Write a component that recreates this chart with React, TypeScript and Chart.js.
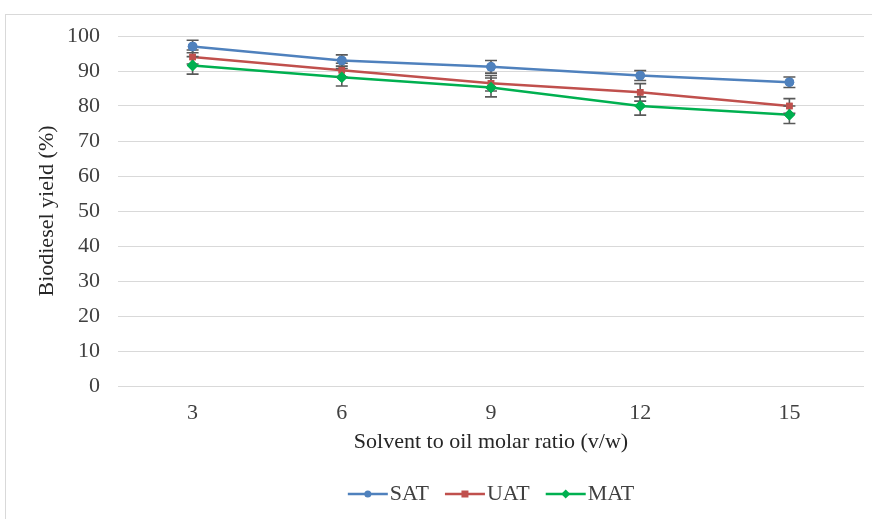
import React, { useEffect, useRef } from "react";
import { Chart, registerables } from "chart.js";

Chart.register(...registerables);

const categories = ["3", "6", "9", "12", "15"];
const satValues = [97, 93, 91.2, 88.7, 86.8];
const uatValues = [94, 90.2, 86.5, 83.9, 80];
const matValues = [91.6, 88.2, 85.3, 80, 77.5];
const satErrors = [1.8, 1.6, 1.8, 1.4, 1.5];
const uatErrors = [2, 2, 2.2, 2.5, 2.1];
const matErrors = [2.5, 2.5, 2.7, 2.6, 2.5];
const seriesNames = ["SAT", "UAT", "MAT"];
const yTicks = [0, 10, 20, 30, 40, 50, 60, 70, 80, 90, 100];

const COLORS = ["#4F81BD", "#C0504D", "#00B050"];
const POINT_STYLES = ["circle", "rect", "rectRot"];
const FONT = "'Liberation Serif', 'Times New Roman', serif";
const FS = 22;

const errorBarPlugin = {
  id: "errorBars",
  afterDatasetsDraw(chart: any) {
    const ctx = chart.ctx;
    const y = chart.scales.y;
    const errs = [satErrors, uatErrors, matErrors];
    ctx.save();
    ctx.strokeStyle = "#595959";
    ctx.lineWidth = 1.6;
    chart.data.datasets.forEach((ds: any, di: number) => {
      const meta = chart.getDatasetMeta(di);
      meta.data.forEach((pt: any, i: number) => {
        const v = ds.data[i];
        const e = errs[di][i];
        const yt = y.getPixelForValue(v + e);
        const yb = y.getPixelForValue(v - e);
        const x = pt.x;
        ctx.beginPath();
        ctx.moveTo(x, yt);
        ctx.lineTo(x, yb);
        ctx.moveTo(x - 6, yt);
        ctx.lineTo(x + 6, yt);
        ctx.moveTo(x - 6, yb);
        ctx.lineTo(x + 6, yb);
        ctx.stroke();
      });
    });
    chart.data.datasets.forEach((_ds: any, di: number) => {
      const meta = chart.getDatasetMeta(di);
      meta.data.forEach((pt: any) => pt.draw(ctx, chart.chartArea));
    });
    ctx.restore();
  },
};

function drawMarker(ctx: CanvasRenderingContext2D, style: string, x: number, y: number, r: number) {
  ctx.beginPath();
  if (style === "circle") {
    ctx.arc(x, y, r, 0, Math.PI * 2);
  } else if (style === "rect") {
    ctx.rect(x - r, y - r, 2 * r, 2 * r);
  } else {
    ctx.moveTo(x, y - r * 1.3);
    ctx.lineTo(x + r * 1.3, y);
    ctx.lineTo(x, y + r * 1.3);
    ctx.lineTo(x - r * 1.3, y);
    ctx.closePath();
  }
  ctx.fill();
}

const legendPlugin = {
  id: "customLegend",
  afterDraw(chart: any) {
    const ctx = chart.ctx;
    ctx.save();
    ctx.font = `${FS}px ${FONT}`;
    ctx.textBaseline = "middle";
    const lineLen = 40;
    const gap = 2;
    const spacing = 16;
    const widths = seriesNames.map((n) => ctx.measureText(n).width);
    let total = 0;
    widths.forEach((w, i) => {
      total += lineLen + gap + w + (i < widths.length - 1 ? spacing : 0);
    });
    const cx = (chart.chartArea.left + chart.chartArea.right) / 2;
    let x = cx - total / 2;
    const yy = 494;
    seriesNames.forEach((n, i) => {
      ctx.strokeStyle = COLORS[i];
      ctx.fillStyle = COLORS[i];
      ctx.lineWidth = 2.5;
      ctx.beginPath();
      ctx.moveTo(x, yy);
      ctx.lineTo(x + lineLen, yy);
      ctx.stroke();
      drawMarker(ctx, POINT_STYLES[i], x + lineLen / 2, yy, 3.5);
      ctx.fillStyle = "#404040";
      ctx.fillText(n, x + lineLen + gap, yy);
      x += lineLen + gap + widths[i] + spacing;
    });
    ctx.restore();
  },
};

export default function App() {
  const canvasRef = useRef<HTMLCanvasElement | null>(null);

  useEffect(() => {
    if (!canvasRef.current) return;
    const values = [satValues, uatValues, matValues];
    const radii = [4.8, 4.6, 5.8];
    const chart = new Chart(canvasRef.current, {
      type: "line",
      data: {
        labels: categories,
        datasets: seriesNames.map((name, i) => ({
          label: name,
          data: values[i],
          borderColor: COLORS[i],
          backgroundColor: COLORS[i],
          borderWidth: 2.5,
          pointStyle: POINT_STYLES[i] as any,
          pointRadius: radii[i],
          pointBorderWidth: 0,
          pointBackgroundColor: COLORS[i],
          tension: 0,
        })),
      },
      options: {
        animation: false,
        responsive: false,
        maintainAspectRatio: false,
        layout: { padding: { left: 34, top: 36, right: 8, bottom: 64 } },
        plugins: {
          legend: { display: false },
          tooltip: { enabled: false },
        },
        scales: {
          x: {
            type: "category",
            offset: true,
            grid: { display: false, drawTicks: false },
            border: { display: false },
            ticks: {
              color: "#404040",
              font: { family: FONT, size: FS },
              padding: 14,
            },
            title: {
              display: true,
              text: "Solvent to oil molar ratio (v/w)",
              color: "#262626",
              font: { family: FONT, size: FS },
              padding: 0,
            },
            afterFit: (s: any) => {
              s.height = 69;
            },
          },
          y: {
            min: 0,
            max: 100,
            afterBuildTicks: (s: any) => {
              s.ticks = yTicks.map((v) => ({ value: v }));
            },
            grid: { color: "#d9d9d9", lineWidth: 1, drawTicks: false },
            border: { display: false },
            ticks: {
              color: "#404040",
              font: { family: FONT, size: FS },
              padding: 18,
            },
            title: {
              display: true,
              text: "Biodiesel yield (%)",
              color: "#262626",
              font: { family: FONT, size: FS },
              padding: 0,
            },
            afterFit: (s: any) => {
              s.width = 84;
            },
          },
        },
      },
      plugins: [errorBarPlugin, legendPlugin],
    });
    return () => chart.destroy();
  }, []);

  return (
    <div
      style={{
        position: "fixed",
        left: 0,
        top: 0,
        width: 872,
        height: 519,
        overflow: "hidden",
        background: "#ffffff",
      }}
    >
      <div
        style={{
          position: "absolute",
          left: 5,
          top: 14,
          width: 1000,
          height: 1000,
          border: "1px solid #d9d9d9",
          boxSizing: "border-box",
        }}
      />
      <canvas
        ref={canvasRef}
        width={872}
        height={519}
        style={{ position: "absolute", left: 0, top: 0, width: 872, height: 519 }}
      />
    </div>
  );
}
